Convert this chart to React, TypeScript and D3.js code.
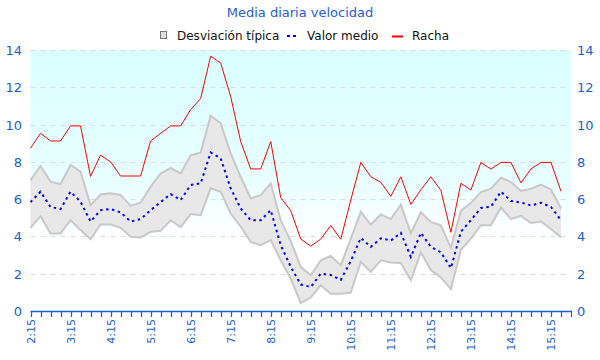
import * as d3 from 'd3';
import React from 'react';

// 15-minute samples, 2:15 .. 15:30
const times = [
  '2:15', '2:30', '2:45', '3:00', '3:15', '3:30', '3:45', '4:00', '4:15', '4:30', '4:45', '5:00',
  '5:15', '5:30', '5:45', '6:00', '6:15', '6:30', '6:45', '7:00', '7:15', '7:30', '7:45', '8:00',
  '8:15', '8:30', '8:45', '9:00', '9:15', '9:30', '9:45', '10:00', '10:15', '10:30', '10:45', '11:00',
  '11:15', '11:30', '11:45', '12:00', '12:15', '12:30', '12:45', '13:00', '13:15', '13:30', '13:45', '14:00',
  '14:15', '14:30', '14:45', '15:00', '15:15', '15:30',
];

const racha = [
  8.73, 9.53, 9.12, 9.12, 9.93, 9.93, 7.22, 8.36, 8.0, 7.24, 7.24, 7.24,
  9.12, 9.53, 9.93, 9.93, 10.8, 11.4, 13.67, 13.3, 11.5, 9.09, 7.62, 7.62,
  9.09, 6.08, 5.38, 3.86, 3.48, 3.86, 4.59, 3.85, 5.95, 7.97, 7.2, 6.9,
  6.15, 7.2, 5.72, 6.5, 7.2, 6.47, 4.22, 6.85, 6.49, 7.97, 7.61, 7.97,
  7.97, 6.87, 7.62, 7.97, 7.97, 6.42,
];

const media = [
  5.84, 6.4, 5.58, 5.47, 6.4, 5.86, 4.8, 5.41, 5.47, 5.29, 4.8, 4.93,
  5.41, 5.84, 6.27, 5.95, 6.76, 6.85, 8.5, 8.19, 6.58, 5.5, 4.87, 4.87,
  5.41, 3.53, 2.37, 1.42, 1.29, 2.0, 1.93, 1.67, 2.68, 3.92, 3.44, 3.9,
  3.78, 4.19, 2.9, 4.19, 3.44, 3.15, 2.3, 4.25, 4.87, 5.53, 5.59, 6.4,
  5.9, 5.82, 5.66, 5.81, 5.58, 4.87,
];

const desvSup = [
  7.02, 7.78, 6.94, 6.81, 7.83, 7.47, 5.68, 6.25, 6.31, 6.22, 5.65, 5.81,
  6.67, 7.38, 7.67, 7.38, 8.35, 8.5, 10.48, 10.07, 8.46, 7.2, 6.04, 6.22,
  6.85, 4.87, 3.75, 2.37, 1.92, 2.72, 2.96, 2.46, 3.89, 5.32, 4.64, 5.18,
  4.93, 5.7, 4.16, 5.3, 4.78, 4.6, 3.4, 5.38, 5.79, 6.38, 6.56, 7.15,
  6.92, 6.44, 6.56, 6.78, 6.52, 5.5,
];

const desvInf = [
  4.46, 5.09, 4.16, 4.16, 4.87, 4.34, 3.85, 4.64, 4.64, 4.46, 3.98, 3.94,
  4.25, 4.3, 4.87, 4.5, 5.2, 5.14, 6.58, 6.4, 5.23, 4.52, 3.71, 3.53,
  3.8, 2.72, 1.74, 0.43, 0.72, 1.38, 0.93, 0.93, 0.99, 2.63, 2.1, 2.72,
  2.6, 2.58, 1.65, 3.14, 2.2, 1.8, 1.18, 3.28, 3.88, 4.6, 4.6, 5.55,
  4.93, 5.1, 4.72, 4.8, 4.4, 3.95,
];

const yTicks = [0, 2, 4, 6, 8, 10, 12, 14];

const W = 600, H = 360;
const left = 30.5, right = 571, top = 50, bottom = 311;
const font = 'DejaVu Sans, Verdana, sans-serif';
const axisBlue = '#1a5fd0';

export default function App() {
  const x = d3.scaleLinear().domain([0, times.length]).range([left, right]);
  const y = d3.scaleLinear().domain([0, 14]).range([bottom, top]);

  const idx = d3.range(times.length);
  const band = d3.area<number>().x(i => x(i)).y0(i => y(desvInf[i])).y1(i => y(desvSup[i]))(idx) ?? '';
  const lineOf = (arr: number[]) => d3.line<number>().x(i => x(i)).y(i => y(arr[i]))(idx) ?? '';
  const tickIdx = d3.range(times.length + 1);

  return (
    <svg width={W} height={H} style={{ position: 'absolute', left: 0, top: 0, background: '#fff' }}>
      <defs>
        <linearGradient id="bg" x1="0" y1="0" x2="0" y2="1">
          <stop offset="0" stopColor="#d9ffff" />
          <stop offset="0.5" stopColor="#e8ffff" />
          <stop offset="0.72" stopColor="#ffffff" />
        </linearGradient>
      </defs>

      <text x={300} y={17} textAnchor="middle" fontFamily={font} fontSize={13} fill="#2a5bd7">
        Media diaria velocidad
      </text>

      {/* legend */}
      <g fontFamily={font} fontSize={12} fill="#111">
        <rect x={160.5} y={31.5} width={6} height={7} fill="#e0e0e0" stroke="#777" />
        <text x={177} y={40}>Desviación típica</text>
        <line x1={287} x2={297} y1={36} y2={36} stroke="#0000ff" strokeWidth={2} strokeDasharray="3 3" />
        <text x={307} y={40}>Valor medio</text>
        <line x1={392} x2={403} y1={36.5} y2={36.5} stroke="#ff0000" strokeWidth={2} />
        <text x={412} y={40}>Racha</text>
      </g>

      <rect x={left} y={top} width={right - left} height={bottom - top} fill="url(#bg)" />

      {yTicks.filter(v => v > 0).map(v => (
        <line key={v} x1={left} x2={right} y1={Math.round(y(v)) + 0.5} y2={Math.round(y(v)) + 0.5}
          stroke="#dcdcdc" strokeDasharray="5 5" />
      ))}

      <path d={band} fill="#e8e8e8" stroke="none" />
      <path d={lineOf(desvSup)} fill="none" stroke="#c8c8c8" strokeWidth={2} />
      <path d={lineOf(desvInf)} fill="none" stroke="#c8c8c8" strokeWidth={2} />
      <path d={lineOf(media)} fill="none" stroke="#0000ff" strokeWidth={2} strokeDasharray="2.5 3.5" />
      <path d={lineOf(racha)} fill="none" stroke="#ff0000" strokeWidth={1} />

      {/* y axes */}
      {yTicks.map(v => (
        <g key={v} fontFamily={font} fontSize={13} fill={axisBlue}>
          <text x={22} y={y(v) + 5} textAnchor="end">{v}</text>
          <text x={577} y={y(v) + 5} textAnchor="start">{v}</text>
        </g>
      ))}

      {/* x axis */}
      <line x1={left} x2={right + 1} y1={bottom + 0.5} y2={bottom + 0.5} stroke={axisBlue} strokeWidth={1.5} />
      {tickIdx.map(i => (
        <line key={i} x1={Math.round(x(i)) + 0.5} x2={Math.round(x(i)) + 0.5} y1={bottom} y2={bottom + 6}
          stroke={axisBlue} strokeWidth={1.2} />
      ))}
      {idx.filter(i => i % 4 === 0).map(i => (
        <text key={i} transform={`translate(${x(i) + 4},${bottom + 8}) rotate(-90)`} textAnchor="end"
          fontFamily={font} fontSize={11} fill={axisBlue}>
          {times[i]}
        </text>
      ))}
    </svg>
  );
}
